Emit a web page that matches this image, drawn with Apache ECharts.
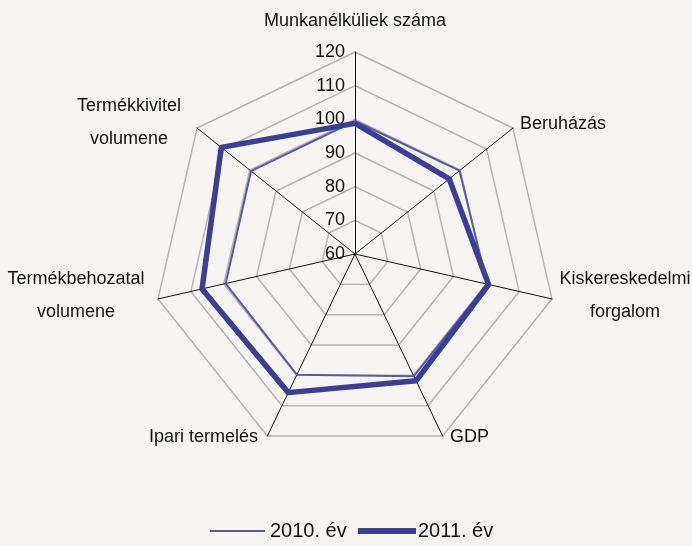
<!DOCTYPE html>
<html><head><meta charset="utf-8">
<script src="https://cdn.jsdelivr.net/npm/echarts@6/dist/echarts.min.js"></script>
<style>html,body{margin:0;padding:0;background:#f7f5f2}#c{width:692px;height:546px}</style>
</head><body><div id="c"></div>
<script>
// Categories in clockwise order starting at top
const categories = ['Munkanélküliek száma','Beruházás','Kiskereskedelmi\nforgalom','GDP','Ipari termelés','Termékbehozatal\nvolumene','Termékkivitel\nvolumene'];
const values2010 = [99.5, 99.7, 100.3, 100.3, 99.8, 99.4, 99.5];
const values2011 = [98.8, 95.8, 100.7, 101.8, 105.7, 106.6, 110.8];
const seriesNames = ['2010. év','2011. év'];
const tickMin = 60, tickMax = 120, tickStep = 10;

const FONT = '"Liberation Sans Narrow","Arial Narrow","Liberation Sans",sans-serif';
// ECharts radar goes counter-clockwise; reorder to draw clockwise
const order = [0].concat(categories.slice(1).map((_, i) => categories.length - 1 - i));
const indicator = order.map((k, i) => {
  const o = {name: categories[k], min: tickMin, max: tickMax};
  if (i === 0) o.axisLabel = {show: true, color: '#111', fontSize: 18, fontFamily: FONT, margin: 10,
    formatter: v => v};
  return o;
});
const reord = arr => order.map(k => arr[k]);

// label positions for category names (text only)
const labelPos = [
  {x: 355, y: 21, align: 'center'},
  {x: 520, y: 124, align: 'left'},
  {x: 625, y: 296, align: 'center'},
  {x: 450, y: 437, align: 'left'},
  {x: 258, y: 437, align: 'right'},
  {x: 76, y: 296, align: 'center'},
  {x: 129, y: 123, align: 'center'}
];

const legendText = {fontSize: 20, color: '#111', fontFamily: '"Liberation Sans",Arial,sans-serif'};
const chart = echarts.init(document.getElementById('c'));
chart.setOption({
  backgroundColor: '#f7f5f2',
  animation: false,
  radar: {
    center: [355, 254],
    radius: 202,
    startAngle: 90,
    shape: 'polygon',
    splitNumber: (tickMax - tickMin) / tickStep,
    indicator: indicator,
    axisName: {show: false},
    axisLine: {lineStyle: {color: '#111', width: 1}},
    splitLine: {lineStyle: {color: '#b4b4b8', width: 1.5}},
    splitArea: {show: false},
    axisTick: {show: false},
    axisLabel: {show: false}
  },
  legend: [
    {data: [seriesNames[0]], left: 210, top: 521, padding: 0, icon: 'rect', itemWidth: 55, itemHeight: 2, itemGap: 0,
     textStyle: Object.assign({padding: [0,0,0,0]}, legendText)},
    {data: [seriesNames[1]], left: 358, top: 521, padding: 0, icon: 'rect', itemWidth: 58, itemHeight: 6, itemGap: 0,
     textStyle: Object.assign({padding: [0,0,0,-3]}, legendText)}
  ],
  graphic: categories.map((c, i) => ({
    type: 'text', x: labelPos[i].x, y: labelPos[i].y,
    style: {text: c, fontSize: 18, fontFamily: FONT, fill: '#111', align: labelPos[i].align,
      verticalAlign: 'middle', lineHeight: 33}
  })),
  series: [{
    type: 'radar',
    symbol: 'none',
    data: [
      {name: seriesNames[0], value: reord(values2010), lineStyle: {color: '#5a5aa6', width: 2}, itemStyle: {color: '#5a5aa6'}},
      {name: seriesNames[1], value: reord(values2011), lineStyle: {color: '#3b3d98', width: 5.5}, itemStyle: {color: '#3b3d98'}}
    ]
  }]
});
</script></body></html>
